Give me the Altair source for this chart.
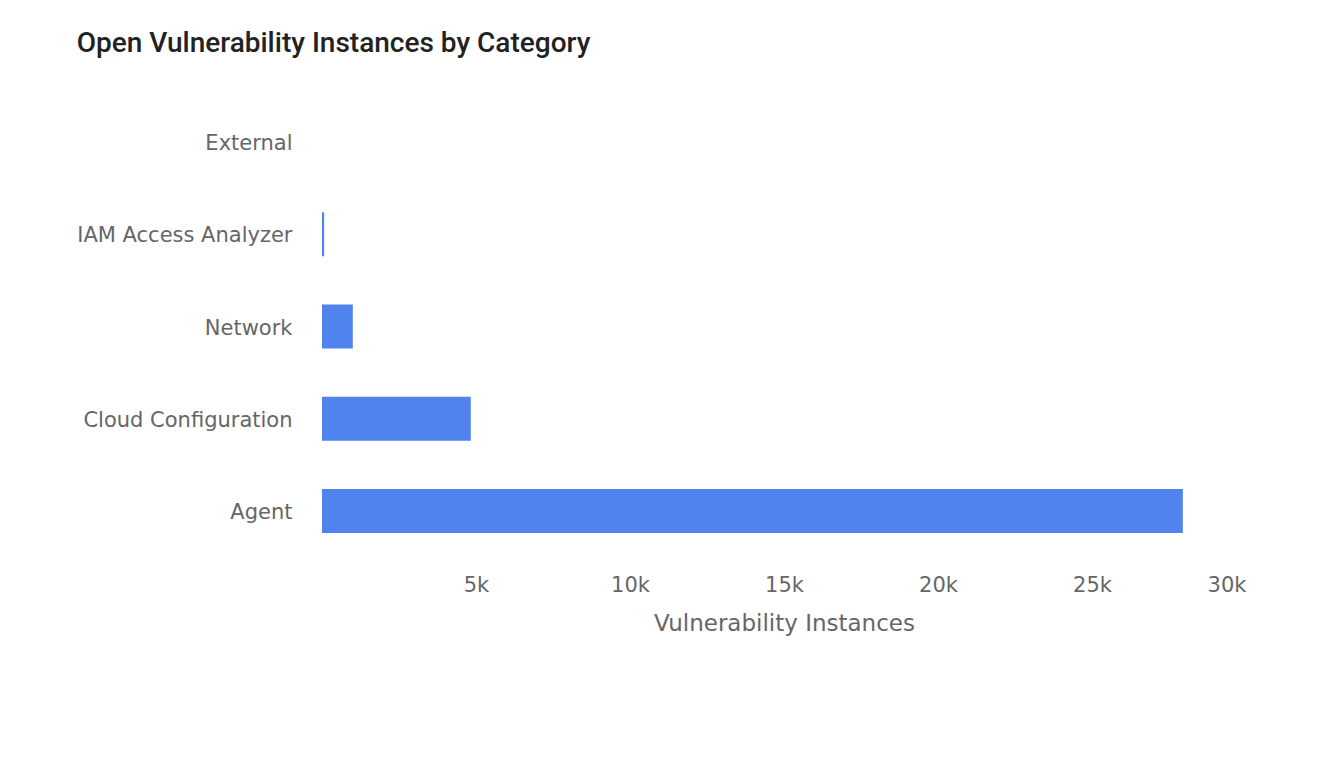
import altair as alt
import pandas as pd

categories = ["External", "IAM Access Analyzer", "Network", "Cloud Configuration", "Agent"]
instances = [0, 70, 1000, 4830, 27950]
tick_values = [5000, 10000, 15000, 20000, 25000, 30000]

df = pd.DataFrame({"Category": categories, "Instances": instances})

label_font = "DejaVu Sans"

chart = (
    alt.Chart(df)
    .mark_bar(color="#5183ef")
    .encode(
        y=alt.Y(
            "Category:N",
            sort=categories,
            scale=alt.Scale(paddingInner=0.523),
            axis=alt.Axis(
                title=None,
                domain=False,
                ticks=False,
                labelPadding=30,
                labelOffset=2,
                labelLimit=0,
                labelFont=label_font,
                labelFontSize=21,
                labelColor="#666666",
            ),
        ),
        x=alt.X(
            "Instances:Q",
            scale=alt.Scale(domain=[0, 30000], nice=False),
            axis=alt.Axis(
                title="Vulnerability Instances",
                values=tick_values,
                format="~s",
                domain=False,
                ticks=False,
                grid=False,
                labelPadding=17,
                labelFont=label_font,
                labelFontSize=21,
                labelColor="#666666",
                titleFont=label_font,
                titleFontSize=23,
                titleFontWeight="normal",
                titleColor="#666666",
                titlePadding=17,
            ),
        ),
    )
    .properties(
        width=924,
        height=461,
        title=alt.TitleParams(
            "Open Vulnerability Instances by Category",
            anchor="start",
            frame="bounds",
            font="Roboto",
            fontSize=28,
            fontWeight=500,
            color="#222222",
            offset=38,
        ),
        autosize=alt.AutoSizeParams(type="none"),
        padding={"left": 322, "top": 96, "right": 78, "bottom": 225},
        background="white",
    )
    .configure_view(stroke=None)
)

chart.save("out.html", embed_options={"renderer": "svg", "actions": False})
